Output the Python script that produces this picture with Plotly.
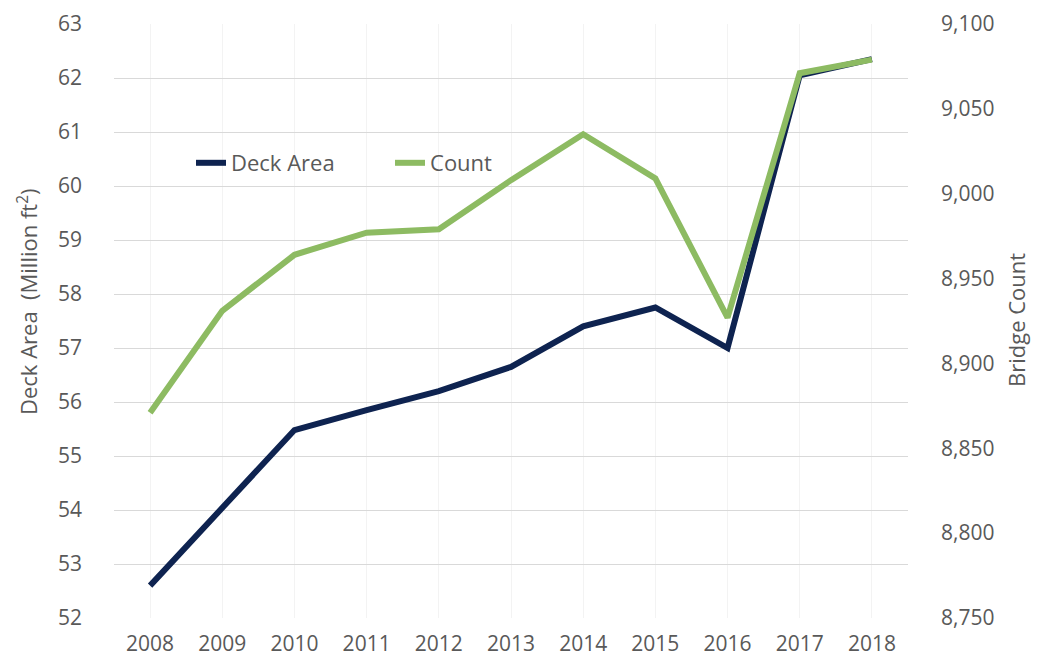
import plotly.graph_objects as go

years = ["2008", "2009", "2010", "2011", "2012", "2013", "2014", "2015", "2016", "2017", "2018"]
deck_area = [52.6, 54.02, 55.48, 55.85, 56.2, 56.65, 57.4, 57.75, 57.0, 62.05, 62.35]
bridge_count = [8871, 8931, 8964, 8977, 8979, 9008, 9035, 9009, 8927, 9071, 9079]

left_ticks = list(range(52, 64))
right_ticks = list(range(8750, 9101, 50))

NAVY = "#0e2350"
GREEN = "#8dbb62"
GRAY = "#595959"
FONT = "Open Sans"

fig = go.Figure()
fig.add_trace(go.Scatter(x=years, y=deck_area, name="Deck Area", mode="lines",
                         line=dict(color=NAVY, width=6), yaxis="y"))
fig.add_trace(go.Scatter(x=years, y=bridge_count, name="Count", mode="lines",
                         line=dict(color=GREEN, width=6), yaxis="y2"))

fig.update_layout(
    width=1026, height=648,
    margin=dict(l=106, r=126, t=16, b=38),
    paper_bgcolor="white", plot_bgcolor="white",
    font=dict(family=FONT, size=21, color=GRAY),
    xaxis=dict(type="category", range=[-0.5, 10.5], showgrid=True, gridcolor="#f3f3f3",
               gridwidth=1, showline=False, zeroline=False, ticks="", automargin=False,
               ticklabelstandoff=11,
               tickfont=dict(size=21, color=GRAY)),
    yaxis=dict(range=[52, 63], tickvals=left_ticks, showgrid=True, gridcolor="#d9d9d9",
               gridwidth=1, zeroline=False, showline=False, ticks="", automargin=False,
               ticklabelstandoff=31,
               tickfont=dict(size=21, color=GRAY)),
    yaxis2=dict(range=[8750, 9100], tickvals=right_ticks, overlaying="y", side="right",
                showgrid=False, zeroline=False, showline=False, ticks="", automargin=False,
                tickformat=",", ticklabelstandoff=32,
                tickfont=dict(size=21, color=GRAY)),
    legend=dict(orientation="h", x=0.097, y=(610 - 155) / 594, xanchor="left", yanchor="middle",
                bgcolor="rgba(0,0,0,0)", font=dict(size=22, color=GRAY),
                entrywidth=154, entrywidthmode="pixels", tracegroupgap=0),
    showlegend=True,
    annotations=[
        dict(text="Deck Area  (Million ft<sup>2</sup>)", xref="paper", yref="paper",
             x=(19 - 106) / 794, y=(610 - 294) / 594, xanchor="center", yanchor="middle",
             textangle=-90, showarrow=False, font=dict(size=22, color=GRAY)),
        dict(text="Bridge Count", xref="paper", yref="paper",
             x=(1008 - 106) / 794, y=(610 - 312) / 594, xanchor="center", yanchor="middle",
             textangle=-90, showarrow=False, font=dict(size=22, color=GRAY)),
    ],
)

fig.write_html("out.html")
